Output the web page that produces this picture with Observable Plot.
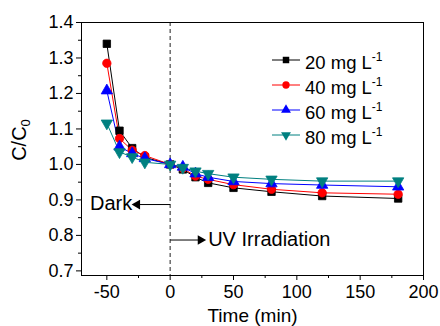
<!DOCTYPE html>
<html>
<head>
<meta charset="utf-8">
<script src="https://cdn.jsdelivr.net/npm/d3@7"></script>
<script src="https://cdn.jsdelivr.net/npm/@observablehq/plot@0.6"></script>
<style>
  body { margin: 0; background: #fff; }
  #wrap { position: relative; width: 440px; height: 326px; font-family: "Liberation Sans", Arial, sans-serif; }
  #ylab { position: absolute; left: 20px; top: 140px; transform: translate(-50%, -50%) rotate(-90deg); font-size: 20px; white-space: nowrap; }
  #ylab sub { font-size: 13px; vertical-align: -4px; }
  #legend { position: absolute; left: 270px; top: 47px; font-size: 18.5px; line-height: 25px; }
  #legend .row { display: flex; align-items: center; height: 25px; }
  #legend svg { margin-right: 3px; }
  #legend sup { font-size: 12px; vertical-align: 8px; }
</style>
</head>
<body>
<div id="wrap">
  <div id="chart"></div>
  <div id="ylab">C/C<sub>0</sub></div>
  <div id="legend"></div>
</div>
<script>
const times = [-50, -40, -30, -20, 0, 10, 20, 30, 50, 80, 120, 180];
const seriesNames = ["20 mg L", "40 mg L", "60 mg L", "80 mg L"];
const c20 = [1.340, 1.095, 1.046, 1.020, 1.000, 0.986, 0.964, 0.948, 0.934, 0.923, 0.911, 0.904];
const c40 = [1.285, 1.073, 1.040, 1.025, 1.000, 0.989, 0.967, 0.958, 0.943, 0.930, 0.920, 0.916];
const c60 = [1.208, 1.050, 1.031, 1.017, 1.000, 0.993, 0.974, 0.964, 0.952, 0.946, 0.942, 0.937];
const c80 = [1.116, 1.035, 1.021, 1.006, 1.000, 0.991, 0.981, 0.974, 0.964, 0.958, 0.953, 0.953];
const colors = ["#000000", "#ff0000", "#0000ff", "#008080"];
const symbols = ["square", "circle", "triangle", "triangle"];
const rotations = [0, 0, 0, 180];
const xTicks = [-50, 0, 50, 100, 150, 200];
const xMinor = [-25, 25, 75, 125, 175];
const yTicks = [0.7, 0.8, 0.9, 1.0, 1.1, 1.2, 1.3, 1.4];
const yMinor = [0.75, 0.85, 0.95, 1.05, 1.15, 1.25, 1.35];
const xLabel = "Time (min)";
const darkNote = {label: "Dark", x0: 0, x1: -26, xText: -30, y: 0.887, dir: -90};
const uvNote = {label: "UV Irradiation", x0: 0, x1: 24, xText: 30, y: 0.787, dir: 90};
const annotations = [darkNote, uvNote];

const allValues = [c20, c40, c60, c80];
const data = [];
allValues.forEach((vals, i) => {
  vals.forEach((v, j) => data.push({series: seriesNames[i], idx: i, time: times[j], value: v}));
});

const marks = [
  Plot.ruleX([0], {stroke: "#555", strokeWidth: 1.3, strokeDasharray: "4,3"}),
  Plot.frame({stroke: "#000", strokeWidth: 1}),
  Plot.axisX({ticks: xTicks, tickSize: 5, tickPadding: 5, tickFormat: d => String(d), label: null, fontSize: 18}),
  Plot.axisX({ticks: xMinor, tickSize: 3, text: null, label: null}),
  Plot.axisY({ticks: yTicks, tickSize: 5, tickPadding: 3, tickFormat: d3.format(".1f"), label: null, fontSize: 18}),
  Plot.axisY({ticks: yMinor, tickSize: 3, text: null, label: null}),
  Plot.text([xLabel], {text: d => d, frameAnchor: "bottom", lineAnchor: "middle", dy: 40, fontSize: 19})
];
allValues.forEach((vals, i) => {
  const d = data.filter(r => r.idx === i);
  marks.push(Plot.line(d, {x: "time", y: "value", stroke: colors[i], strokeWidth: 1}));
});
allValues.forEach((vals, i) => {
  const d = data.filter(r => r.idx === i);
  marks.push(Plot.dot(d, {x: "time", y: "value", symbol: symbols[i], rotate: rotations[i], fill: colors[i], stroke: colors[i], strokeWidth: 0.8, r: 4.2}));
});
marks.push(
  Plot.link(annotations, {x1: "x0", x2: "x1", y1: "y", y2: "y", stroke: "#000", strokeWidth: 1}),
  Plot.dot(annotations, {x: "x1", y: "y", symbol: "triangle", rotate: "dir", fill: "#000", stroke: "none", r: 3.6}),
  Plot.text([darkNote], {x: "xText", y: "y", text: "label", textAnchor: "end", fontSize: 20, dy: -1}),
  Plot.text([uvNote], {x: "xText", y: "y", text: "label", textAnchor: "start", fontSize: 20, dy: 0})
);

const chart = Plot.plot({
  width: 440,
  height: 326,
  marginLeft: 81,
  marginRight: 17,
  marginTop: 22,
  marginBottom: 51,
  style: {fontFamily: "Liberation Sans, Arial, sans-serif", fontSize: "18px", color: "#000", background: "#fff"},
  x: {domain: [-70, 200]},
  y: {domain: [0.687, 1.4]},
  marks
});
document.getElementById("chart").append(chart);

// Legend
const leg = d3.select("#legend");
seriesNames.forEach((name, i) => {
  const row = leg.append("div").attr("class", "row");
  const svg = row.append("svg").attr("width", 32).attr("height", 14);
  svg.append("line").attr("x1", 2).attr("x2", 30).attr("y1", 7).attr("y2", 7).attr("stroke", colors[i]).attr("stroke-width", 1);
  const type = symbols[i] === "square" ? d3.symbolSquare : symbols[i] === "circle" ? d3.symbolCircle : d3.symbolTriangle;
  svg.append("path").attr("d", d3.symbol(type, 42)()).attr("fill", colors[i])
    .attr("transform", `translate(16,7) rotate(${rotations[i]})`);
  row.append("span").html(`${name}<sup>-1</sup>`);
});
</script>
</body>
</html>
